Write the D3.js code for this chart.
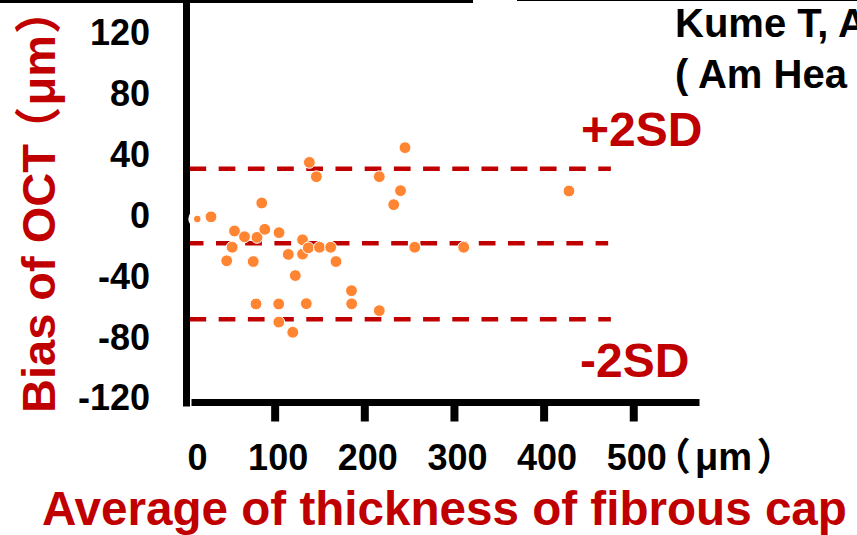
<!DOCTYPE html>
<html>
<head>
<meta charset="utf-8">
<script src="https://cdn.jsdelivr.net/npm/d3@7/dist/d3.min.js"></script>
<style>
  html, body { margin: 0; padding: 0; background: #fff; }
  svg { display: block; }
  text { font-family: "Liberation Sans", Arial, sans-serif; font-weight: bold; }
  .cjk { font-family: "Liberation Sans", "Noto Sans CJK JP", sans-serif; font-feature-settings: "palt"; }
</style>
</head>
<body>
<div id="chart"></div>
<script>
// Bland-Altman data
var thicknessAvg = [245.4, 138.7, 146.5, 216.7, 240.4, 232.8, 85.6, 29.0, 55.2, 66.4,
  80.3, 89.0, 104.9, 52.6, 46.5, 76.1, 115.2, 131.1, 131.1, 137.5,
  150.0, 162.5, 168.4, 123.0, 256.3, 310.9, 185.7, 185.9, 79.2, 104.5,
  135.3, 216.7, 104.6, 120.2, 428.3]
var biasOCT = [44.9, 35.2, 25.8, 25.8, 16.6, 7.4, 8.5, -0.6, -9.9, -13.7,
  -14.1, -8.8, -11.0, -20.6, -29.5, -30.0, -25.3, -15.7, -25.1, -21.0,
  -20.6, -20.6, -30.0, -39.2, -20.6, -20.6, -49.2, -57.8, -57.9, -57.9,
  -57.7, -62.3, -69.8, -76.5, 16.4]
// the tiny point sitting on the y axis
var smallThickness = [13.7]
var smallBias = [-2.0]

var meanBias = -18
var upperLimit = 31
var lowerLimit = -68
var limitStart = 5, limitEnd = 475

var xTicks = [0, 100, 200, 300, 400, 500]
var yTicks = [120, 80, 40, 0, -40, -80, -120]

var red = '#c00000'
var orange = '#ff8533'

var W = 857, H = 535

var svg = d3.select('#chart').append('svg')
  .attr('width', W)
  .attr('height', H)

svg.append('rect').attr('width', W).attr('height', H).attr('fill', '#fff')

// remains of the slide above
svg.append('rect').attr('x', 0).attr('y', 0).attr('width', 473).attr('height', 3).attr('fill', '#000')
svg.append('line').attr('x1', 517).attr('x2', W).attr('y1', 0.5).attr('y2', 0.5)
  .attr('stroke', '#000').attr('stroke-width', 1)

var x = d3.scaleLinear().domain([0, 575]).range([185, 700.5])
var y = d3.scaleLinear().domain([-125, 142]).range([406, 0])

// limit lines
var lines = [upperLimit, meanBias, lowerLimit]
svg.selectAll('.limit').data(lines).enter().append('line')
  .attr('class', 'limit')
  .attr('x1', function(d){ return x(d === meanBias ? limitStart - 3 : limitStart) })
  .attr('x2', function(d){ return x(d === meanBias ? limitEnd - 3 : limitEnd) })
  .attr('y1', function(d){ return y(d) })
  .attr('y2', function(d){ return y(d) })
  .attr('stroke', red)
  .attr('stroke-width', 4.5)
  .attr('stroke-dasharray', '16.7,12.5')

svg.append('text')
  .attr('x', 581)
  .attr('y', y(upperLimit) - 23)
  .attr('font-size', 48)
  .attr('fill', red)
  .text('+2SD')

svg.append('text')
  .attr('x', 580)
  .attr('y', y(lowerLimit) + 58)
  .attr('font-size', 48)
  .attr('fill', red)
  .text('-2SD')

var plain = function(d){ return String(d) }

// y axis: the long vertical bar plus tick labels
var yAxis = svg.append('g')
  .attr('transform', 'translate(186,0)')
  .call(d3.axisLeft(y).tickValues(yTicks).tickFormat(plain)
    .tickSize(0).tickSizeOuter(0).tickPadding(36))
yAxis.select('.domain').attr('stroke', '#000').attr('stroke-width', 7)
yAxis.selectAll('.tick text')
  .attr('font-size', 36)
  .attr('font-family', '"Liberation Sans", Arial, sans-serif')
  .attr('font-weight', 'bold')
  .attr('fill', '#000')

// x axis
var xAxis = svg.append('g')
  .attr('transform', 'translate(0,402)')
  .call(d3.axisBottom(x).tickValues(xTicks).tickFormat(plain)
    .tickSize(19.5).tickSizeOuter(0))
xAxis.select('.domain').attr('stroke', '#000').attr('stroke-width', 7)
  .attr('d', 'M' + 191.5 + ',0.5H' + 699.5)
xAxis.selectAll('.tick line').attr('stroke', '#000').attr('stroke-width', 8)
  .attr('opacity', function(d){ return d === 0 ? 0 : 1 })
xAxis.selectAll('.tick text')
  .attr('y', 68)
  .attr('dy', 0)
  .attr('dx', function(d){ return d === 0 ? 12 : 3 })
  .attr('font-size', 36)
  .attr('font-family', '"Liberation Sans", Arial, sans-serif')
  .attr('font-weight', 'bold')
  .attr('fill', '#000')

var unit = svg.append('text')
  .attr('class', 'cjk')
  .attr('x', 670)
  .attr('y', 470)
  .attr('font-size', 38)
  .attr('fill', '#000')
unit.append('tspan').text('（')
unit.append('tspan').attr('dx', 6).text('μm')
unit.append('tspan').attr('dx', 6).text('）')

// points
var pts = thicknessAvg.map(function(t, i){ return {t: t, b: biasOCT[i]} })
var small = smallThickness.map(function(t, i){ return {t: t, b: smallBias[i]} })

svg.selectAll('.halo').data(small).enter().append('circle')
  .attr('cx', function(d){ return x(d.t) })
  .attr('cy', function(d){ return y(d.b) })
  .attr('r', 9)
  .attr('fill', '#fff')
svg.selectAll('.small').data(small).enter().append('circle')
  .attr('cx', function(d){ return x(d.t) })
  .attr('cy', function(d){ return y(d.b) })
  .attr('r', 3.2)
  .attr('fill', orange)

svg.selectAll('.pt').data(pts).enter().append('circle')
  .attr('class', 'pt')
  .attr('cx', function(d){ return x(d.t) })
  .attr('cy', function(d){ return y(d.b) })
  .attr('r', 5.9)
  .attr('fill', orange)
  .attr('stroke', '#fff')
  .attr('stroke-width', 1)

// axis titles
var ytitle = svg.append('text')
  .attr('class', 'cjk')
  .attr('transform', 'translate(55,413) rotate(-90)')
  .attr('font-size', 47)
  .attr('fill', red)
ytitle.append('tspan').text('Bias of OCT')
ytitle.append('tspan').attr('dx', 12).text('（')
ytitle.append('tspan').attr('dx', 3).text('μm')
ytitle.append('tspan').attr('dx', 3).text('）')

svg.append('text')
  .attr('x', 42)
  .attr('y', 525)
  .attr('font-size', 47.6)
  .attr('fill', red)
  .text('Average of thickness of fibrous cap')

// citation, cut off at the right edge as in the source
svg.append('text')
  .attr('x', 675)
  .attr('y', 37)
  .attr('font-size', 40)
  .attr('fill', '#000')
  .text('Kume T, A')
svg.append('text')
  .attr('x', 675)
  .attr('y', 88)
  .attr('font-size', 40)
  .attr('fill', '#000')
  .text('( Am Hea')
</script>
</body>
</html>
